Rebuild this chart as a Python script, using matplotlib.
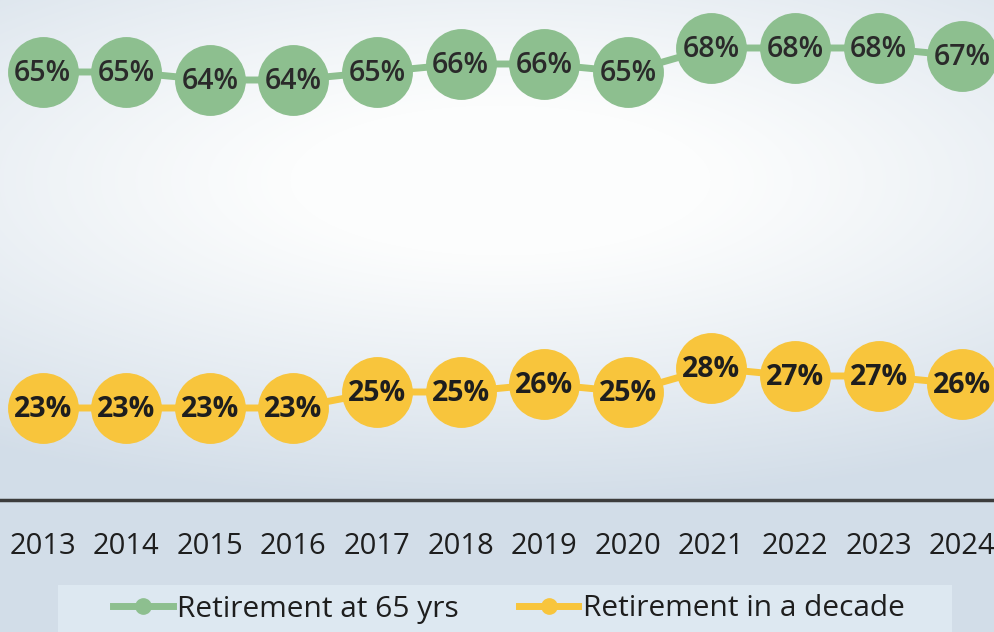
import numpy as np
import matplotlib.pyplot as plt
from matplotlib.lines import Line2D
from matplotlib.patches import Rectangle

years = [2013, 2014, 2015, 2016, 2017, 2018, 2019, 2020, 2021, 2022, 2023, 2024]
retire_at_65 = [65, 65, 64, 64, 65, 66, 66, 65, 68, 68, 68, 67]
retire_in_decade = [23, 23, 23, 23, 25, 25, 26, 25, 28, 27, 27, 26]
series_names = ["Retirement at 65 yrs", "Retirement in a decade"]

GREEN = "#8dbf8f"
YELLOW = "#f8c53c"
TEXT = "#1e1e1e"
FONT = ["Open Sans", "DejaVu Sans"]

W, H = 994, 632
fig = plt.figure(figsize=(W / 100, H / 100), dpi=100)

# soft paper-like background: pale centre, blue-grey toward the edges and bottom
bg = fig.add_axes([0, 0, 1, 1], zorder=-10)
yy, xx = np.mgrid[0:H, 0:W]
d = np.sqrt(((xx - 500) / 700.0) ** 2 + ((yy - 180) / 250.0) ** 2)
t = np.clip((d - 0.3) / 1.0, 0, 1) ** 1.1
white = np.array([252, 253, 253]) / 255
tint = np.array([210, 221, 232]) / 255
img = white[None, None, :] * (1 - t[..., None]) + tint[None, None, :] * t[..., None]
bg.imshow(img, aspect="auto", extent=[0, 1, 0, 1], origin="upper")
bg.set_axis_off()

ax = fig.add_axes([0, 1 - 500 / H, 1, 500 / H])
ax.set_facecolor("none")
ax.set_xlim(2012.49, 2024.38)
ax.set_ylim(11.5, 74)

for vals, color in [(retire_at_65, GREEN), (retire_in_decade, YELLOW)]:
    ax.plot(years, vals, color=color, lw=5, marker="o", markersize=50,
            markerfacecolor=color, markeredgecolor=color, zorder=3,
            solid_capstyle="butt", clip_on=False)

for x, v in zip(years, retire_at_65):
    ax.text(x, v - 0.2, f"{v}%", ha="center", va="center", fontsize=20.5,
            fontweight="semibold", color="#2a2a2a", family=FONT, zorder=4)
for x, v in zip(years, retire_in_decade):
    ax.text(x, v - 0.2, f"{v}%", ha="center", va="center", fontsize=20.5,
            fontweight="bold", color=TEXT, family=FONT, zorder=4)

for s in ["top", "left", "right"]:
    ax.spines[s].set_visible(False)
ax.spines["bottom"].set_color("#3c3c3c")
ax.spines["bottom"].set_linewidth(2.5)
ax.set_yticks([])
ax.set_xticks(years)
ax.set_xticklabels([str(y) for y in years], fontsize=21, color=TEXT, family=FONT)
ax.tick_params(axis="x", length=0, pad=23)

# legend panel
fig.add_artist(Rectangle((58 / W, 0), (952 - 58) / W, (632 - 585) / H,
                         transform=fig.transFigure, facecolor="#dde8f1",
                         edgecolor="none", zorder=1))
handles = [
    Line2D([], [], color=GREEN, lw=5, marker="o", markersize=11,
           markerfacecolor=GREEN, markeredgecolor=GREEN),
    Line2D([], [], color=YELLOW, lw=5, marker="o", markersize=11,
           markerfacecolor=YELLOW, markeredgecolor=YELLOW),
]
leg = fig.legend(handles, series_names, loc="center", ncol=2,
                 bbox_to_anchor=(0.512, 1 - 609 / H), frameon=False,
                 handlelength=2.0, handletextpad=0.15, columnspacing=2.0,
                 borderpad=0.0, borderaxespad=0.0,
                 prop={"family": FONT, "size": 21.5})
leg.set_zorder(2)
for txt in leg.get_texts():
    txt.set_color(TEXT)

fig.savefig("out.png", dpi=100)
